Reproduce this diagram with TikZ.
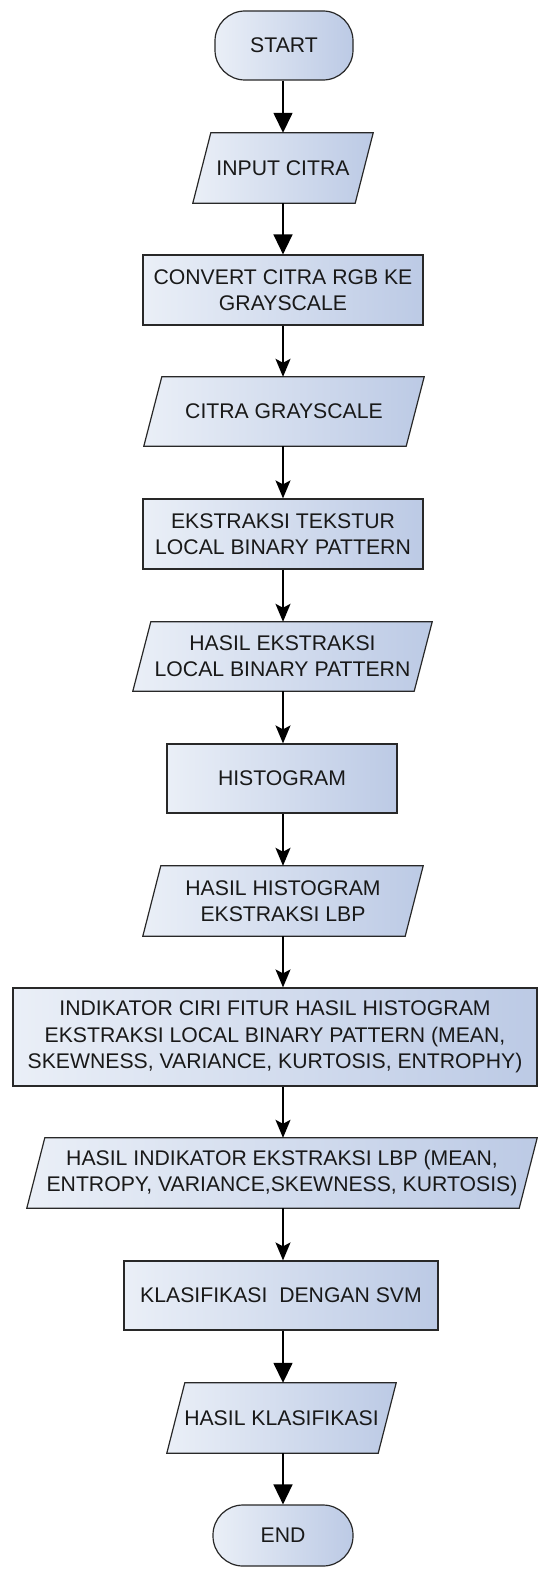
\documentclass[tikz,border=0pt]{standalone}
\usepackage{fontspec}
\setmainfont{Liberation Sans}
\usetikzlibrary{arrows.meta,backgrounds}
\definecolor{fillL}{RGB}{234,239,247}
\definecolor{fillR}{RGB}{188,202,229}
\definecolor{edgec}{RGB}{40,40,40}
\definecolor{txtc}{RGB}{25,25,25}
\tikzset{
 base/.style={align=center, text=txtc, font=\fontsize{21.2pt}{26.3pt}\selectfont, inner sep=0pt},
 procbox/.style={base, draw=edgec, line width=1.2pt, left color=fillL, right color=fillR},
 termbox/.style={procbox, rounded corners=30pt},
 iobox/.style={base},
 ioshape/.style={draw=edgec, line width=1.2pt, left color=fillL, right color=fillR},
 bigarrow/.style={line width=1.5pt, -{Triangle[width=19pt,length=20pt]}},
 smallarrow/.style={line width=1.5pt, -{Stealth[width=15pt,length=18pt,inset=4pt]}},
}
\newcommand{\drawio}[1]{\draw[ioshape] ([xshift=-9pt]#1.south west) -- ([xshift=9pt]#1.north west) -- ([xshift=9pt]#1.north east) -- ([xshift=-9pt]#1.south east) -- cycle;}
\begin{document}
\begin{tikzpicture}[x=1pt,y=-1pt]
\useasboundingbox (0,0) rectangle (539,1571);
\node[termbox, minimum width=138pt, minimum height=69pt] (start) at (284,45.5) {START};
\node[iobox, minimum width=162pt, minimum height=70pt] (input) at (283,168) {INPUT CITRA};
\node[procbox, minimum width=280pt, minimum height=70pt] (convert) at (283,290) {CONVERT CITRA RGB KE\\GRAYSCALE};
\node[iobox, minimum width=262pt, minimum height=69pt] (gray) at (284,411.5) {CITRA GRAYSCALE};
\node[procbox, minimum width=280pt, minimum height=70pt] (ekstr) at (283,534) {EKSTRAKSI TEKSTUR\\LOCAL BINARY PATTERN};
\node[iobox, minimum width=281pt, minimum height=69pt] (hasilek) at (282.5,656.5) {HASIL EKSTRAKSI\\LOCAL BINARY PATTERN};
\node[procbox, minimum width=230pt, minimum height=69pt] (hist) at (282,778.5) {HISTOGRAM};
\node[iobox, minimum width=262pt, minimum height=70pt] (hasilhist) at (283,901) {HASIL HISTOGRAM\\EKSTRAKSI LBP};
\node[procbox, minimum width=524pt, minimum height=98pt] (indik) at (275,1037) {INDIKATOR CIRI FITUR HASIL HISTOGRAM\\EKSTRAKSI LOCAL BINARY PATTERN (MEAN,\\SKEWNESS, VARIANCE, KURTOSIS, ENTROPHY)};
\node[iobox, minimum width=492pt, minimum height=70pt] (hasilind) at (282,1173) {HASIL INDIKATOR EKSTRAKSI LBP (MEAN,\\ENTROPY, VARIANCE,SKEWNESS, KURTOSIS)};
\node[procbox, minimum width=314pt, minimum height=69pt] (klas) at (281,1295.5) {KLASIFIKASI\ \ DENGAN SVM};
\node[iobox, minimum width=211pt, minimum height=70pt] (hasilklas) at (281.5,1418) {HASIL KLASIFIKASI};
\node[termbox, minimum width=140pt, minimum height=61pt] (end) at (283,1535.5) {END};
\begin{pgfonlayer}{background}
\drawio{input}
\drawio{gray}
\drawio{hasilek}
\drawio{hasilhist}
\drawio{hasilind}
\drawio{hasilklas}
\end{pgfonlayer}
\draw[bigarrow] (start.south -| input.north) -- (input.north);
\draw[bigarrow] (input.south) -- (input.south |- convert.north);
\draw[smallarrow] (convert.south) -- (convert.south |- gray.north);
\draw[smallarrow] (convert.south |- gray.south) -- (convert.south |- ekstr.north);
\draw[smallarrow] (ekstr.south) -- (ekstr.south |- hasilek.north);
\draw[smallarrow] (ekstr.south |- hasilek.south) -- (ekstr.south |- hist.north);
\draw[smallarrow] (ekstr.south |- hist.south) -- (ekstr.south |- hasilhist.north);
\draw[smallarrow] (hasilhist.south) -- (hasilhist.south |- indik.north);
\draw[smallarrow] (hasilhist.south |- indik.south) -- (hasilhist.south |- hasilind.north);
\draw[smallarrow] (hasilhist.south |- hasilind.south) -- (hasilhist.south |- klas.north);
\draw[bigarrow] (hasilhist.south |- klas.south) -- (hasilhist.south |- hasilklas.north);
\draw[bigarrow] (hasilhist.south |- hasilklas.south) -- (hasilhist.south |- end.north);
\end{tikzpicture}
\end{document}
